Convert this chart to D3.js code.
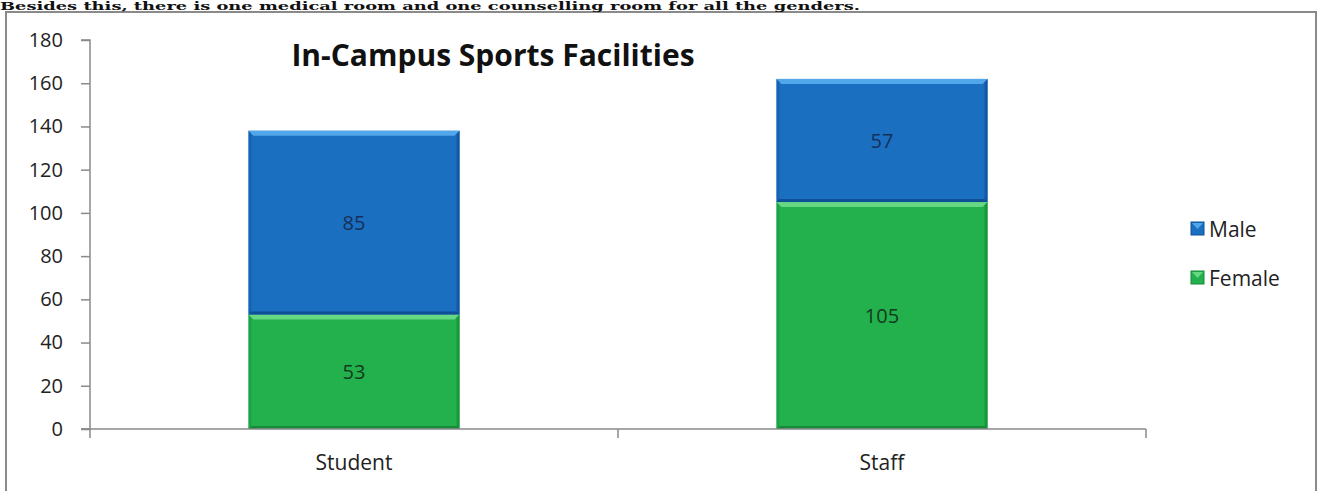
<!DOCTYPE html>
<html>
<head>
<meta charset="utf-8">
<script src="https://cdn.jsdelivr.net/npm/d3@7"></script>
<style>
  html, body { margin: 0; padding: 0; background: #fff; overflow: hidden; }
  svg { display: block; }
</style>
</head>
<body>
<svg id="chart" width="1321" height="491"></svg>
<script>
const categories = ["Student", "Staff"];
const femaleValues = [53, 105];
const maleValues = [85, 57];
const seriesNames = ["Female", "Male"];
const legendOrder = ["Male", "Female"];
const yTicks = [0, 20, 40, 60, 80, 100, 120, 140, 160, 180];
const titleText = "In-Campus Sports Facilities";
const captionText = "Besides this, there is one medical room and one counselling room for all the genders.";

const colors = {
  Male:   { main: "#1b6fc1", light: "#52a6ea", dark: "#0f4f96" },
  Female: { main: "#22b14c", light: "#66d884", dark: "#168a38" }
};

const svg = d3.select("#chart");
const fontSans = "'Open Sans', Lato, sans-serif";

// chart frame
svg.append("rect")
  .attr("x", 6).attr("y", 12)
  .attr("width", 1310).attr("height", 490)
  .attr("fill", "#fff")
  .attr("stroke", "#8a8a8a")
  .attr("stroke-width", 2);

// caption above the chart frame
svg.append("text")
  .attr("x", 0).attr("y", 10)
  .attr("font-family", "'DejaVu Serif', serif")
  .attr("font-weight", "bold")
  .attr("font-size", 11)
  .attr("textLength", 860)
  .attr("lengthAdjust", "spacingAndGlyphs")
  .attr("fill", "#111")
  .text(captionText);

const plot = { left: 90, right: 1146, top: 40, bottom: 429 };

const x = d3.scaleBand().domain(categories).range([plot.left, plot.right]).paddingInner(0).paddingOuter(0);
const y = d3.scaleLinear().domain([0, 180]).range([plot.bottom, plot.top]);

const table = categories.map((c, i) => ({ category: c, Female: femaleValues[i], Male: maleValues[i] }));
const stacked = d3.stack().keys(seriesNames)(table);

const barW = x.bandwidth() * 0.4;

// bars
stacked.forEach(layer => {
  const key = layer.key;
  const c = colors[key];
  const g = svg.append("g");
  layer.forEach((d, i) => {
    const cx = x(categories[i]) + x.bandwidth() / 2;
    const x0 = cx - barW / 2, x1 = cx + barW / 2;
    const yTop = y(d[1]), yBot = y(d[0]);
    const h = yBot - yTop;
    const b = 5;
    g.append("rect").attr("x", x0).attr("y", yTop).attr("width", barW).attr("height", h).attr("fill", c.main);
    g.append("path").attr("d", `M${x0},${yTop}L${x1},${yTop}L${x1 - b},${yTop + b}L${x0 + b},${yTop + b}Z`).attr("fill", c.light);
    g.append("path").attr("d", `M${x0},${yBot}L${x1},${yBot}L${x1 - 3},${yBot - 3}L${x0 + 3},${yBot - 3}Z`).attr("fill", c.dark);
    g.append("path").attr("d", `M${x0},${yTop}L${x0 + 3},${yTop + 3}L${x0 + 3},${yBot - 3}L${x0},${yBot}Z`).attr("fill", c.dark).attr("opacity", 0.35);
    g.append("path").attr("d", `M${x1},${yTop}L${x1 - 3},${yTop + 3}L${x1 - 3},${yBot - 3}L${x1},${yBot}Z`).attr("fill", c.dark).attr("opacity", 0.7);
    g.append("text")
      .attr("x", cx).attr("y", (yTop + yBot) / 2)
      .attr("text-anchor", "middle").attr("dominant-baseline", "central")
      .attr("font-family", fontSans).attr("font-size", 20)
      .attr("fill", key === "Male" ? "#15305a" : "#123a1c")
      .text(d.data[key]);
  });
});

// y axis
const yAxis = d3.axisLeft(y).tickValues(yTicks).tickSize(9).tickPadding(18).tickFormat(d3.format("d"));
const gy = svg.append("g").attr("transform", `translate(${plot.left},0)`).call(yAxis);
gy.select(".domain").attr("stroke", "#8a8a8a").attr("stroke-width", 1.5).attr("d", `M-9,${plot.bottom}H0V${plot.top}H-9`);
gy.selectAll(".tick line").attr("stroke", "#8a8a8a").attr("stroke-width", 1.5);
gy.selectAll(".tick text").attr("font-family", fontSans).attr("font-size", 20).attr("fill", "#222");

// x axis
const xAxis = d3.axisBottom(x).tickSize(0).tickPadding(26);
const gx = svg.append("g").attr("transform", `translate(0,${plot.bottom})`).call(xAxis);
gx.select(".domain").attr("stroke", "#8a8a8a").attr("stroke-width", 1.5).attr("d", `M${plot.left - 9},0H${plot.right}`);
gx.selectAll(".tick text").attr("font-family", fontSans).attr("font-size", 21).attr("fill", "#222");
const bounds = [plot.left, ...categories.slice(1).map(c => x(c)), plot.right];
gx.selectAll("line.bound").data(bounds).enter().append("line")
  .attr("class", "bound")
  .attr("x1", d => d).attr("x2", d => d).attr("y1", 0).attr("y2", 9)
  .attr("stroke", "#8a8a8a").attr("stroke-width", 1.5);

// title
svg.append("text")
  .attr("x", 493).attr("y", 66)
  .attr("text-anchor", "middle")
  .attr("font-family", fontSans).attr("font-weight", "bold").attr("font-size", 30)
  .attr("fill", "#111")
  .text(titleText);

// legend
const lg = svg.append("g");
legendOrder.forEach((k, i) => {
  const yy = 229 + i * 49;
  const c = colors[k];
  lg.append("rect").attr("x", 1191).attr("y", yy - 7).attr("width", 13).attr("height", 13).attr("fill", c.main).attr("stroke", c.dark).attr("stroke-width", 1);
  lg.append("path").attr("d", `M1192,${yy - 6}L1203,${yy - 6}L1197.5,${yy}Z`).attr("fill", c.light);
  lg.append("text").attr("x", 1209).attr("y", yy).attr("dominant-baseline", "central")
    .attr("font-family", fontSans).attr("font-size", 21).attr("fill", "#222").text(k);
});
</script>
</body>
</html>
